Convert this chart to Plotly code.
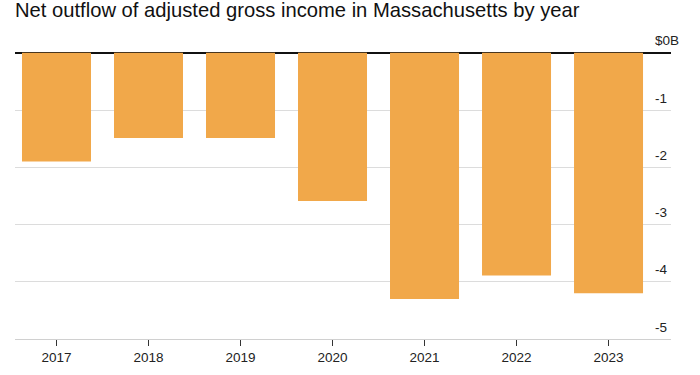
import plotly.graph_objects as go

years = ["2017", "2018", "2019", "2020", "2021", "2022", "2023"]
net_outflow = [-1.9, -1.49, -1.49, -2.59, -4.30, -3.89, -4.20]
y_tick_vals = [0, -1, -2, -3, -4, -5]
y_tick_text = ["$0B", "-1", "-2", "-3", "-4", "-5"]

fig = go.Figure()
fig.add_trace(go.Bar(
    x=list(range(len(years))),
    y=net_outflow,
    marker=dict(color="#F1A84A", line=dict(width=0)),
    width=0.75,
    hoverinfo="skip",
))

# zero label hangs past the other labels (digits aligned), so draw it as an annotation
fig.add_annotation(
    text=y_tick_text[0], xref="paper", yref="y",
    x=(652.5 - 15) / 656, y=y_tick_vals[0], xanchor="left", yanchor="middle",
    yshift=12, showarrow=False, font=dict(size=13.5, color="#222"),
)

fig.update_layout(
    width=700, height=375,
    margin=dict(l=15, r=29, t=26.5, b=35.7, autoexpand=False),
    paper_bgcolor="white", plot_bgcolor="white",
    showlegend=False,
    font=dict(family="Liberation Sans, Arial, sans-serif", color="#222"),
    title=dict(
        text="Net outflow of adjusted gross income in Massachusetts by year",
        x=0, xref="paper", xanchor="left", y=0.973, yanchor="middle",
        font=dict(size=20.2, color="#111"),
        pad=dict(l=0),
    ),
    xaxis=dict(
        range=[-0.451, 6.679],
        tickvals=list(range(len(years))),
        ticktext=years,
        showgrid=False,
        showline=True, linecolor="#d0d0d0", linewidth=1,
        ticks="outside", ticklen=6, tickcolor="#333", tickwidth=1,
        tickfont=dict(size=13.5, color="#222"),
        zeroline=False,
        automargin=False,
    ),
    yaxis=dict(
        range=[-5, 0.45],
        side="right",
        tickvals=y_tick_vals,
        ticktext=[""] + y_tick_text[1:],
        ticklabelposition="inside",
        ticklabelshift=-12,
        ticklabelstandoff=1,
        ticks="",
        showgrid=True, gridcolor="#dcdcdc", gridwidth=1,
        zeroline=True, zerolinecolor="#111", zerolinewidth=1.5,
        showline=False,
        tickfont=dict(size=13.5, color="#222"),
        automargin=False,
    ),
    bargap=0.25,
)

fig.write_html("out.html", config={"displayModeBar": False},
               post_script="document.body.style.margin='0';")
